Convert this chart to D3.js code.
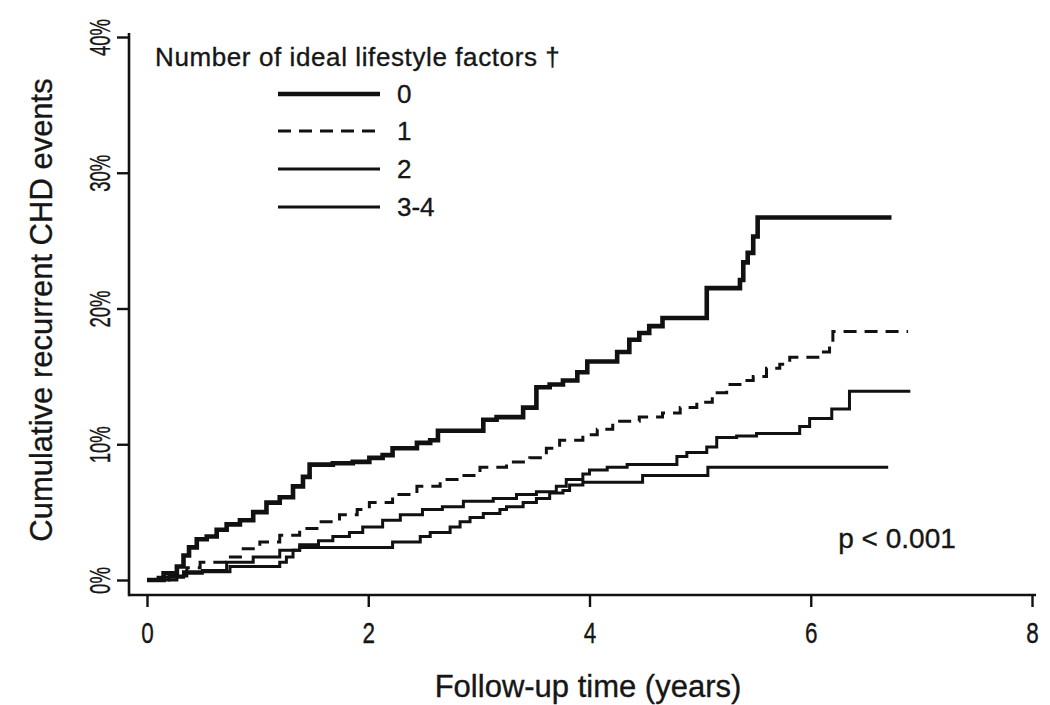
<!DOCTYPE html>
<html><head><meta charset="utf-8">
<script src="https://cdn.jsdelivr.net/npm/d3@7"></script>
<style>body{margin:0;background:#fff}svg{display:block}text{font-family:"Liberation Sans",Arial,sans-serif;fill:#161616;stroke:#161616;stroke-width:0.35px}</style>
</head><body><svg id="c" width="1050" height="705"></svg>
<script>
// ---- data ----
const legendTitle = "Number of ideal lifestyle factors \u2020";
const groupLabels = ["0", "1", "2", "3-4"];
const xTicks = [0, 2, 4, 6, 8];
const yTicks = [0, 10, 20, 30, 40];
const xTitle = "Follow-up time (years)";
const yTitle = "Cumulative recurrent CHD events";
const pText = "p < 0.001";

const times0 = [0,0.15,0.27,0.33,0.38,0.45,0.54,0.63,0.72,0.84,0.96,1.08,1.2,1.32,1.41,1.47,1.68,1.86,2.01,2.13,2.22,2.44,2.56,2.63,3.04,3.16,3.4,3.52,3.64,3.76,3.89,3.98,4.25,4.36,4.45,4.54,4.66,5.06,5.36,5.39,5.43,5.48,5.52,6.73];
const values0 = [0,0.5,1.0,1.8,2.4,3.0,3.2,3.7,4.1,4.4,5.0,5.7,6.1,6.9,7.6,8.5,8.6,8.7,9.0,9.2,9.7,10.1,10.3,11.0,11.8,12.0,12.7,14.2,14.4,14.7,15.3,16.1,16.8,17.7,18.2,18.7,19.3,21.5,22.1,23.4,24.1,25.3,26.7,26.7];

const times1 = [0,0.27,0.36,0.48,0.72,0.87,1.02,1.2,1.38,1.56,1.74,1.9,2.01,2.22,2.44,2.65,2.83,3.01,3.25,3.46,3.61,3.73,3.94,4.07,4.21,4.45,4.66,4.82,4.97,5.11,5.24,5.36,5.48,5.6,5.72,5.81,6.1,6.17,6.2,6.88];
const values1 = [0,0.5,0.9,1.3,1.7,2.3,2.8,3.3,3.8,4.3,4.8,5.2,5.7,6.3,6.9,7.4,7.7,8.3,8.7,9.0,9.7,10.3,10.7,11.1,11.7,12.0,12.3,12.7,13.1,13.8,14.4,14.7,15.0,15.6,15.9,16.4,16.8,17.5,18.3,18.3];

const times2 = [0,0.2,0.36,0.5,0.72,0.96,1.2,1.38,1.55,1.68,1.83,1.95,2.13,2.29,2.49,2.67,2.86,3.13,3.34,3.52,3.7,3.79,3.94,4.0,4.16,4.34,4.79,4.88,5.06,5.15,5.33,5.51,5.9,5.99,6.19,6.35,6.9];
const values2 = [0,0.3,0.5,0.7,1.3,1.7,2.2,2.6,2.9,3.2,3.5,3.9,4.4,4.8,5.2,5.4,5.8,6.0,6.3,6.5,6.9,7.4,7.8,8.1,8.3,8.5,9.1,9.4,9.8,10.5,10.6,10.8,11.3,11.9,12.6,13.9,13.9];

const times3 = [0,0.1,0.33,0.75,1.2,1.26,1.32,1.38,2.22,2.47,2.56,2.74,2.83,2.92,3.04,3.19,3.25,3.4,3.52,3.64,3.76,3.82,3.94,4.48,5.07,6.7];
const values3 = [0,0.2,0.6,1.0,1.3,1.7,2.2,2.4,2.8,3.2,3.5,3.9,4.3,4.6,4.9,5.2,5.4,5.7,6.0,6.4,6.6,7.0,7.2,7.7,8.3,8.3];

// ---- chart ----
const svg = d3.select("#c");
svg.append("rect").attr("width",1050).attr("height",705).attr("fill","#fff");
const x = d3.scaleLinear().domain([0, 8]).range([147, 1032]);
const y = d3.scaleLinear().domain([0, 40]).range([580, 37]);
const axisY0 = 595, axisX0 = 129;

// axis lines
svg.append("line").attr("x1", axisX0).attr("x2", 1036).attr("y1", axisY0).attr("y2", axisY0)
  .attr("stroke","#111").attr("stroke-width",2.6);
svg.append("line").attr("x1", axisX0).attr("x2", axisX0).attr("y1", 33).attr("y2", axisY0+1.3)
  .attr("stroke","#111").attr("stroke-width",2.6);

// x axis ticks
const gx = svg.append("g").attr("transform", `translate(0,${axisY0})`)
  .call(d3.axisBottom(x).tickValues(xTicks).tickSize(12).tickFormat(d3.format("d")));
gx.select(".domain").remove();
gx.selectAll(".tick line").attr("stroke","#111").attr("stroke-width",2.4);
gx.selectAll(".tick text").attr("y", 0).attr("dy", null)
  .attr("font-size", 30).attr("fill","#161616")
  .attr("transform", "translate(0,48) scale(0.75,1)");

// y axis ticks
const gy = svg.append("g").attr("transform", `translate(${axisX0},0)`)
  .call(d3.axisLeft(y).tickValues(yTicks).tickSize(12).tickFormat(d => d + "%"));
gy.select(".domain").remove();
gy.selectAll(".tick line").attr("stroke","#111").attr("stroke-width",2.4);
gy.selectAll(".tick text").attr("x", 0).attr("dy", null).attr("text-anchor","middle")
  .attr("font-size", 30).attr("fill","#161616")
  .attr("transform", "translate(-19,0) rotate(-90) scale(0.62,1)");

// titles
svg.append("text").attr("x", 588).attr("y", 697).attr("text-anchor","middle")
  .attr("font-size", 31).text(xTitle);
svg.append("text").attr("transform","translate(52,310) rotate(-90)").attr("text-anchor","middle")
  .attr("font-size", 31).text(yTitle);
svg.append("text").attr("x", 897).attr("y", 548).attr("text-anchor","middle")
  .attr("font-size", 28).text(pText);

// curves
const series = [
  {t: times0, v: values0, w: 4.6, dash: null},
  {t: times1, v: values1, w: 3.0, dash: "13,8"},
  {t: times2, v: values2, w: 3.0, dash: null},
  {t: times3, v: values3, w: 3.0, dash: null}
];
const line = d3.line().x(d => x(d[0])).y(d => y(d[1])).curve(d3.curveStepAfter);
series.forEach(s => {
  svg.append("path").datum(d3.zip(s.t, s.v)).attr("d", line)
    .attr("fill","none").attr("stroke","#111").attr("stroke-width", s.w)
    .attr("stroke-dasharray", s.dash).attr("stroke-linejoin","miter");
});

// legend
svg.append("text").attr("x", 155).attr("y", 66).attr("font-size", 26)
  .attr("letter-spacing", 0.6).text(legendTitle);
const legY = [94, 131, 169, 207];
series.forEach((s, i) => {
  svg.append("line").attr("x1", 278).attr("x2", 380).attr("y1", legY[i]).attr("y2", legY[i])
    .attr("stroke","#111").attr("stroke-width", s.w).attr("stroke-dasharray", s.dash);
  svg.append("text").attr("x", 397).attr("y", legY[i]).attr("dy","0.36em")
    .attr("font-size", 26).text(groupLabels[i]);
});
</script></body></html>
